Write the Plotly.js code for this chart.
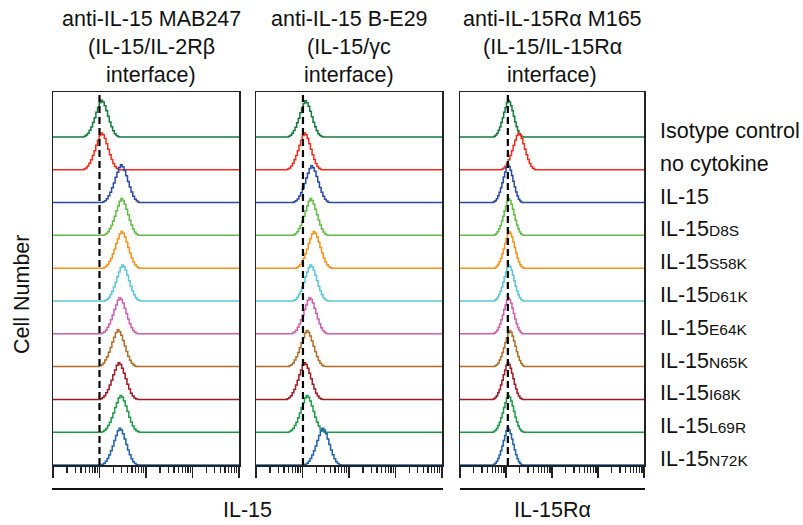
<!DOCTYPE html>
<html><head><meta charset="utf-8">
<script src="https://cdn.plot.ly/plotly-3.0.1.min.js"></script>
<style>body{margin:0;background:#fff}#chart{width:803px;height:525px}</style>
</head><body><div id="chart"></div><script>
// ---- data ----
const subStyle = 'font-size:15.5px';
const rowLabels = ['Isotype control','no cytokine','IL-15',
  'IL-15<span style="' + subStyle + '">D8S</span>','IL-15<span style="' + subStyle + '">S58K</span>',
  'IL-15<span style="' + subStyle + '">D61K</span>','IL-15<span style="' + subStyle + '">E64K</span>',
  'IL-15<span style="' + subStyle + '">N65K</span>','IL-15<span style="' + subStyle + '">I68K</span>',
  'IL-15<span style="' + subStyle + '">L69R</span>','IL-15<span style="' + subStyle + '">N72K</span>'];
const rowColors = ['#137a3d','#f42a1c','#2b48a8','#63bb47','#f7931e','#5cc6d8','#cc5fae','#b06e28','#9e1a24','#1b9a46','#1f60ab'];
const panelTitles = [
  ['anti-IL-15 MAB247','(IL-15/IL-2Rβ','interface)'],
  ['anti-IL-15 B-E29','(IL-15/γc','interface)'],
  ['anti-IL-15Rα M165','(IL-15/IL-15Rα','interface)']
];
const axisTitles = ['IL-15','IL-15Rα'];
const yTitle = 'Cell Number';
// peak positions (log10 fluorescence) per row, top to bottom
const peaksMAB247 = [1.03,1.03,1.45,1.46,1.46,1.48,1.42,1.38,1.40,1.44,1.42];
const peaksBE29   = [1.05,1.03,1.18,1.16,1.23,1.16,1.14,1.08,1.03,1.08,1.42];
const peaksM165   = [1.04,1.26,1.03,1.05,1.06,1.05,1.04,1.07,1.03,1.04,1.03];
// peak heights (in row units)
const heightsMAB247 = [1.12,1.12,1.15,1.12,1.12,1.10,1.10,1.12,1.12,1.12,1.12];
const heightsBE29   = [1.10,1.12,1.12,1.12,1.12,1.10,1.10,1.10,1.12,1.12,1.12];
const heightsM165   = [1.12,1.12,1.16,1.12,1.12,1.10,1.10,1.10,1.12,1.12,1.12];
// peak widths (scale of the common profile)
const spreadMAB247 = [0.90,0.92,0.95,0.90,0.92,0.90,0.92,0.95,0.95,0.95,0.92];
const spreadBE29   = [0.88,0.88,0.92,0.88,0.90,0.88,0.90,0.92,0.90,0.92,0.92];
const spreadM165   = [0.75,0.88,0.75,0.75,0.75,0.75,0.75,0.78,0.75,0.78,0.75];
// isotype reference (dashed line) per panel
const isotypeRef = [1.0, 1.01, 1.04];
// common histogram profile
const profileOffsets = [-0.44,-0.40,-0.36,-0.32,-0.28,-0.24,-0.20,-0.16,-0.12,-0.08,-0.04,0,0.04,0.08,0.12,0.16,0.20,0.24,0.28,0.32,0.36,0.40,0.44];
const profileHeights = [0,0.02,0.05,0.10,0.18,0.27,0.39,0.52,0.67,0.80,0.93,1.0,0.95,0.85,0.71,0.56,0.41,0.28,0.17,0.09,0.04,0.01,0];

const panels = [
  {peaks:peaksMAB247, heights:heightsMAB247, spread:spreadMAB247},
  {peaks:peaksBE29, heights:heightsBE29, spread:spreadBE29},
  {peaks:peaksM165, heights:heightsM165, spread:spreadM165}
];

// ---- layout geometry (pixels) ----
const W = 803, H = 525;
const px = v => v / W, py = v => 1 - v / H;
const panelX = [[53,239],[256,442],[460,644]];
const plotTop = 92, plotBottom = 465;
const nRows = rowLabels.length;
const yTop = 11.37;
const FS = 21.5;

const traces = [];
panels.forEach((p, k) => {
  const xa = k === 0 ? 'x' : 'x' + (k + 1);
  const ya = k === 0 ? 'y' : 'y' + (k + 1);
  for (let i = 0; i < nRows; i++) {
    const base = nRows - 1 - i;
    const xs = [0], ys = [base];
    profileOffsets.forEach((o, j) => {
      xs.push(p.peaks[i] + o * p.spread[i]);
      ys.push(base + profileHeights[j] * p.heights[i]);
    });
    xs.push(4); ys.push(base);
    traces.push({x: xs, y: ys, xaxis: xa, yaxis: ya, type: 'scatter', mode: 'lines',
      line: {color: rowColors[i], width: 1.5, shape: 'hv'}, hoverinfo: 'skip', showlegend: false});
  }
  traces.push({x: [isotypeRef[k], isotypeRef[k]], y: [0, yTop], xaxis: xa, yaxis: ya,
    type: 'scatter', mode: 'lines', line: {color: '#000', width: 2.2, dash: '7px,4px'},
    hoverinfo: 'skip', showlegend: false});
});

const minorVals = [];
for (let d = 0; d < 4; d++) for (let m = 2; m <= 9; m++) minorVals.push(d + Math.log10(m));

const layout = {
  width: W, height: H, margin: {l: 0, r: 0, t: 0, b: 0},
  paper_bgcolor: '#fff', plot_bgcolor: '#fff',
  font: {family: 'Liberation Sans, Arial, sans-serif', color: '#111', size: FS},
  showlegend: false, annotations: [], shapes: []
};
panelX.forEach((xr, k) => {
  const sfx = k === 0 ? '' : (k + 1);
  layout['xaxis' + sfx] = {
    domain: [px(xr[0]), px(xr[1])], range: [0, 4], anchor: 'y' + sfx,
    showline: true, mirror: true, linecolor: '#222', linewidth: 1.5, layer: 'below traces',
    tickmode: 'array', tickvals: [0,1,2,3,4], ticks: 'outside', ticklen: 11, tickwidth: 1.5, tickcolor: '#222',
    showticklabels: false, showgrid: false, zeroline: false,
    minor: {tickmode: 'array', tickvals: minorVals, ticks: 'outside', ticklen: 6, tickwidth: 1.2, tickcolor: '#222', showgrid: false}
  };
  layout['yaxis' + sfx] = {
    domain: [py(plotBottom), py(plotTop)], range: [0, yTop], anchor: 'x' + sfx,
    showline: true, mirror: true, linecolor: '#222', linewidth: 1.5, layer: 'below traces',
    ticks: '', showticklabels: false, showgrid: false, zeroline: false
  };
});
const titleCenters = [151, 349, 552];
panelTitles.forEach((lines, k) => {
  lines.forEach((t, j) => {
    layout.annotations.push({text: t, xref: 'paper', yref: 'paper', x: px(titleCenters[k]), y: py(19 + j * 28),
      xanchor: 'center', yanchor: 'middle', showarrow: false, font: {size: FS}});
  });
});
const rowUnit = (plotBottom - plotTop) / yTop;
rowLabels.forEach((t, i) => {
  const base = plotBottom - (nRows - 1 - i) * rowUnit;
  layout.annotations.push({text: t, xref: 'paper', yref: 'paper', x: px(658), y: py(base - 6),
    xanchor: 'left', yanchor: 'middle', showarrow: false, font: {size: FS}});
});
layout.annotations.push({text: yTitle, xref: 'paper', yref: 'paper', x: px(22), y: py(295), textangle: -90,
  xanchor: 'center', yanchor: 'middle', showarrow: false, font: {size: FS}});
layout.annotations.push({text: axisTitles[0], xref: 'paper', yref: 'paper', x: px(247), y: py(510),
  xanchor: 'center', yanchor: 'middle', showarrow: false, font: {size: FS}});
layout.annotations.push({text: axisTitles[1], xref: 'paper', yref: 'paper', x: px(552), y: py(510),
  xanchor: 'center', yanchor: 'middle', showarrow: false, font: {size: FS}});
layout.shapes.push({type: 'line', xref: 'paper', yref: 'paper', x0: px(52), x1: px(443), y0: py(489), y1: py(489), line: {color: '#111', width: 2}});
layout.shapes.push({type: 'line', xref: 'paper', yref: 'paper', x0: px(460), x1: px(645), y0: py(489), y1: py(489), line: {color: '#111', width: 2}});

Plotly.newPlot('chart', traces, layout, {staticPlot: true, displayModeBar: false});
</script></body></html>
